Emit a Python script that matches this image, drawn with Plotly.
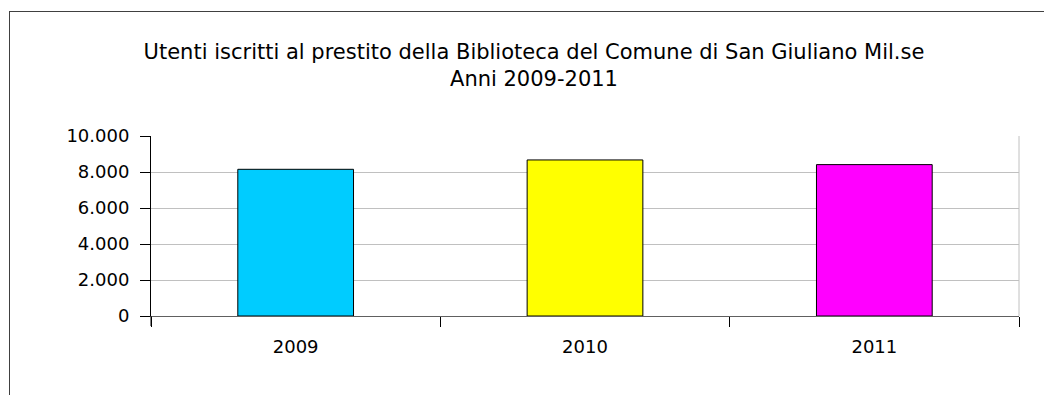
import plotly.graph_objects as go

years = ["2009", "2010", "2011"]
users = [8150, 8670, 8410]
bar_colors = ["#00ccff", "#ffff00", "#ff00ff"]
y_ticks = [0, 2000, 4000, 6000, 8000, 10000]

# the page body adds an 8px offset; compensate
OFF = 8
W, H = 1052 - OFF, 395 - OFF
L, R, T, B = 151 - OFF, 1019 - OFF, 136 - OFF, 316 - OFF
pw, ph = R - L, B - T

def px(x):
    return (x - OFF - L) / pw

def py(y):
    return (B - (y - OFF)) / ph

fig = go.Figure(go.Bar(
    x=years, y=users,
    marker=dict(color=bar_colors, line=dict(color="#000000", width=1)),
    hoverinfo="x+y",
))

font = "DejaVu Sans, Verdana, sans-serif"
fig.update_layout(
    width=W, height=H,
    margin=dict(l=L, r=W - R, t=T, b=H - B, pad=0),
    paper_bgcolor="white", plot_bgcolor="white",
    separators=",.",
    bargap=0.6,
    showlegend=False,
    font=dict(family=font, color="#000000", size=18),
    title=dict(
        text="Utenti iscritti al prestito della Biblioteca del Comune di San Giuliano Mil.se<br>Anni 2009-2011",
        x=(534 - OFF) / W, xref="container", xanchor="center",
        y=1 - 51 / H, yref="container", yanchor="top",
        font=dict(family=font, size=21, color="#000000"),
    ),
    xaxis=dict(
        type="category",
        showgrid=False,
        showline=True, linecolor="#606060", linewidth=1,
        ticks="outside", ticklen=10, tickcolor="#000000", tickwidth=1,
        tickson="boundaries",
        ticklabelstandoff=14,
        tickfont=dict(size=18),
    ),
    yaxis=dict(
        range=[0, 10000],
        tickvals=y_ticks,
        tickformat=",d",
        showgrid=True, gridcolor="#c0c0c0", gridwidth=1,
        zeroline=False,
        showline=True, linecolor="#000000", linewidth=1,
        ticks="outside", ticklen=10, tickcolor="#000000", tickwidth=1,
        ticklabelstandoff=7,
        tickfont=dict(size=18),
    ),
    shapes=[
        # right border of plot area
        dict(type="line", xref="paper", yref="paper", x0=1, x1=1, y0=0, y1=1,
             line=dict(color="#c0c0c0", width=1)),
        # y axis extension below zero
        dict(type="line", xref="paper", yref="paper", x0=0, x1=0, y0=py(326), y1=0,
             line=dict(color="#000000", width=1)),
        # outer chart border (left and top)
        dict(type="line", xref="paper", yref="paper", x0=px(9.5), x1=px(9.5), y0=py(11), y1=py(400),
             line=dict(color="#404040", width=1)),
        dict(type="line", xref="paper", yref="paper", x0=px(9.5), x1=px(1060), y0=py(11.5), y1=py(11.5),
             line=dict(color="#404040", width=1)),
    ],
)

fig.write_html("out.html")
